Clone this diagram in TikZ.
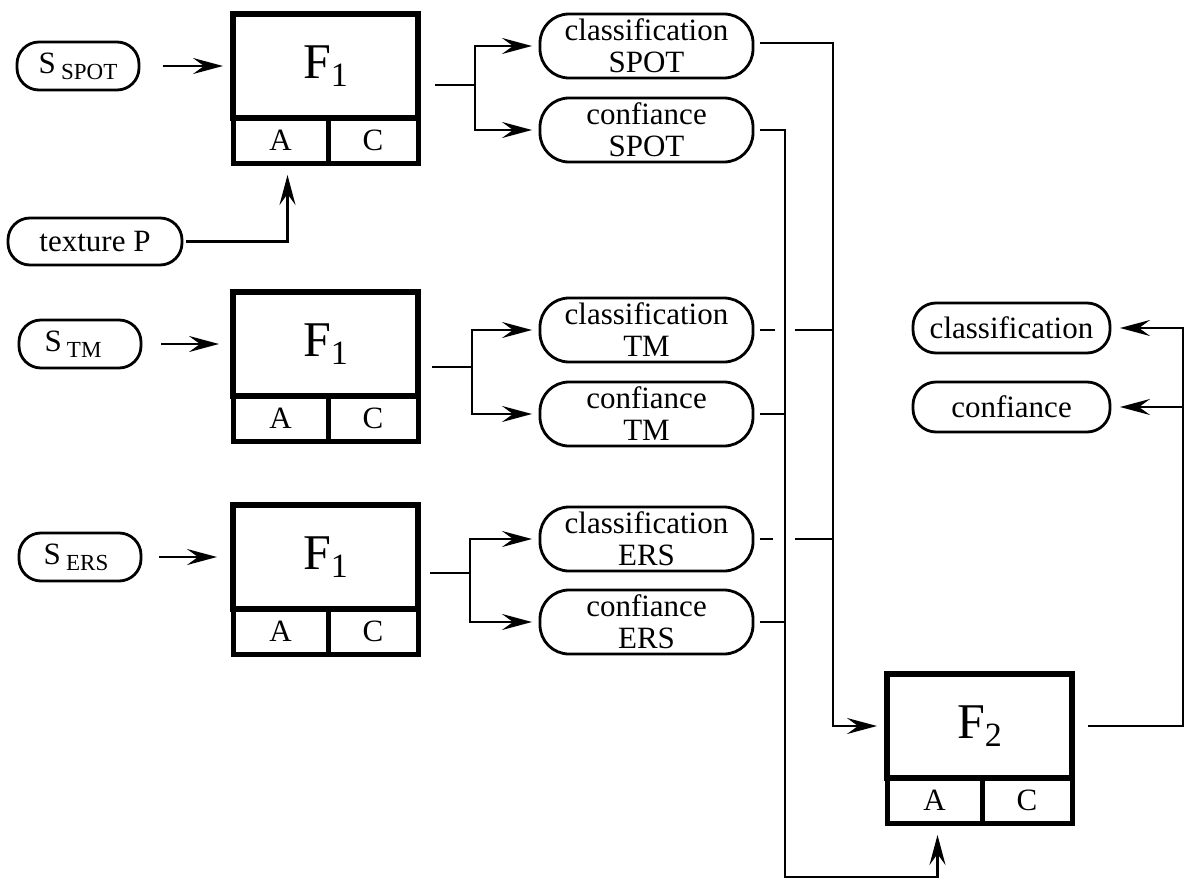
\documentclass[tikz,border=0pt]{standalone}
\usepackage{fontspec}
\setmainfont{Liberation Serif}
\usetikzlibrary{arrows.meta,calc}
\newcommand\subtx[1]{\raisebox{-6pt}{\fontsize{23}{23}\selectfont #1}}
\newcommand\Flab[1]{{\fontsize{50}{50}\selectfont F}\raisebox{-8pt}{\fontsize{34}{34}\selectfont #1}}
\begin{document}
\begin{tikzpicture}[x=1pt,y=-1pt,
  every node/.style={font=\fontsize{31}{32}\selectfont, inner sep=0pt, outer sep=0pt},
  pill/.style={draw, line width=2.8pt, rounded corners=29pt, align=center,
    minimum width=213pt, minimum height=64pt},
  spill/.style={draw, line width=2.8pt, rounded corners=22pt, align=center,
    minimum width=122pt, minimum height=48pt},
  opill/.style={draw, line width=2.8pt, rounded corners=23pt, align=center,
    minimum width=197pt, minimum height=50pt},
  fmain/.style={draw, line width=5.5pt, minimum width=185pt, minimum height=104pt},
  fcellA/.style={draw, line width=5pt, minimum width=95pt, minimum height=45pt},
  fcellC/.style={draw, line width=5pt, minimum width=90pt, minimum height=45pt},
  conn/.style={line width=2.8pt},
  arr/.style={conn, -{Stealth[length=30pt,width=16pt,inset=11pt]}}
]
\fill[white] (0,0) rectangle (1188,880);
\useasboundingbox (0,0) rectangle (1188,880);

% ---- F1 boxes ----
\node[fmain] (f1m) at (325.5,66) {\Flab{1}};
\node[fcellA] (f1A) at (280.5,140.5) {A};
\node[fcellC] (f1C) at (373,140.5) {C};

\node[fmain] (f2m1) at (325.5,344) {\Flab{1}};
\node[fcellA] (f2A1) at (280.5,418.5) {A};
\node[fcellC] (f2C1) at (373,418.5) {C};

\node[fmain] (f3m) at (325.5,557) {\Flab{1}};
\node[fcellA] (f3A) at (280.5,631.5) {A};
\node[fcellC] (f3C) at (373,631.5) {C};

% ---- F2 box ----
\node[fmain] (gm) at (979.5,726) {\Flab{2}};
\node[fcellA] (gA) at (934.5,800.5) {A};
\node[fcellC] (gC) at (1027,800.5) {C};

% ---- inputs ----
\node[spill] (sspot) at (78,66) {S\,\subtx{SPOT}};
\node[spill] (stm) at (80,344) {S\,\subtx{TM}\hspace*{14pt}};
\node[spill] (sers) at (80,557) {S\,\subtx{ERS}\hspace*{8pt}};
\node[spill, minimum width=174pt, minimum height=47pt] (tex) at (95,241.5) {texture P};

% ---- intermediate pills ----
\node[pill] (cs1) at (646.5,46) {classification\\SPOT};
\node[pill] (cf1) at (646.5,130) {confiance\\SPOT};
\node[pill] (cs2) at (646.5,330) {classification\\TM};
\node[pill] (cf2) at (646.5,414) {confiance\\TM};
\node[pill] (cs3) at (646.5,539) {classification\\ERS};
\node[pill] (cf3) at (646.5,622) {confiance\\ERS};

% ---- outputs ----
\node[opill] (cls) at (1011.5,328) {classification};
\node[opill] (cnf) at (1011.5,407) {confiance};

% ---- bus coordinates ----
\coordinate (bf) at (785,0);
\coordinate (bc) at (833,0);
\coordinate (bb) at (785,877);
\coordinate (ob) at (1183,0);
\coordinate (j1) at (475,85);
\coordinate (j2) at (472,367);
\coordinate (j3) at (470,573);

% ---- input arrows ----
\draw[arr] ($(sspot.east)+(24,0)$) -- ($(f1m.west)+(-10,0)$);
\draw[arr] ($(stm.east)+(20,0)$) -- ($(f2m1.west)+(-14,0)$);
\draw[arr] ($(sers.east)+(18,0)$) -- ($(f3m.west)+(-16,0)$);
\draw[arr] ($(tex.east)+(4,0)$) -| ($(f1A.south)+(7,12)$);

% ---- forks ----
\draw[conn] ($(j1 -| f1m.east)+(17,0)$) -- (j1);
\draw[arr] (j1) |- ($(cs1.west)+(-8,0)$);
\draw[arr] (j1) |- ($(cf1.west)+(-8,0)$);
\draw[conn] ($(j2 -| f2m1.east)+(14,0)$) -- (j2);
\draw[arr] (j2) |- ($(cs2.west)+(-8,0)$);
\draw[arr] (j2) |- ($(cf2.west)+(-8,0)$);
\draw[conn] ($(j3 -| f3m.east)+(12,0)$) -- (j3);
\draw[arr] (j3) |- ($(cs3.west)+(-8,0)$);
\draw[arr] (j3) |- ($(cf3.west)+(-8,0)$);

% ---- buses to F2 ----
\draw[arr] ($(cs1.east)+(7,-3)$) -| (bc |- gm.west) -- ($(gm.west)+(-10,0)$);
\draw[arr] ($(cf1.east)+(7,0)$) -| (bb) -| ($(gA.south)+(3,12)$);
\draw[conn] ($(cs2.east)+(7,0)$) -- ($(cs2.east -| bf)+(-10,0)$);
\draw[conn] ($(cs2.east -| bf)+(10,0)$) -- (cs2.east -| bc);
\draw[conn] ($(cf2.east)+(7,0)$) -- (cf2.east -| bf);
\draw[conn] ($(cs3.east)+(7,0)$) -- ($(cs3.east -| bf)+(-12,0)$);
\draw[conn] ($(cs3.east -| bf)+(10,0)$) -- (cs3.east -| bc);
\draw[conn] ($(cf3.east)+(7,0)$) -- (cf3.east -| bf);

% ---- F2 outputs ----
\draw[arr] ($(gm.east)+(16,0)$) -| (ob |- cls.east) -- ($(cls.east)+(10,0)$);
\draw[arr] (ob |- cnf.east) -- ($(cnf.east)+(10,0)$);
\end{tikzpicture}
\end{document}
